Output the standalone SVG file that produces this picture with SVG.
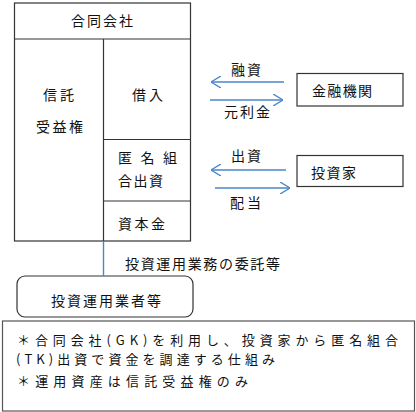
<svg xmlns="http://www.w3.org/2000/svg" width="416" height="412" viewBox="0 0 416 412">
<defs>
<style>
text{font-family:"Noto Sans CJK JP","Noto Sans",sans-serif;font-size:14px;fill:#111;}
.nt{font-size:13px;}
.bx{fill:#fff;stroke:#333;stroke-width:1.2;}
.ar{fill:none;stroke:#4a86c8;stroke-width:1.6;}
</style>
<marker id="ah" viewBox="0 0 10 12" refX="10" refY="6" markerWidth="10" markerHeight="12" markerUnits="userSpaceOnUse" orient="auto">
<path d="M0,0 L10,6 L0,12" fill="none" stroke="#4a86c8" stroke-width="1.4"/>
</marker>
</defs>
<rect width="416" height="412" fill="#fff"/>
<g id="gk">
<rect class="bx" x="14.5" y="3" width="176" height="238"/>
<line x1="14.5" y1="39" x2="190.5" y2="39" stroke="#333" stroke-width="1.2"/>
<line x1="103.5" y1="39" x2="103.5" y2="241" stroke="#333" stroke-width="1.2"/>
<line x1="103.5" y1="139.5" x2="190.5" y2="139.5" stroke="#333" stroke-width="1.2"/>
<line x1="103.5" y1="201" x2="190.5" y2="201" stroke="#333" stroke-width="1.2"/>
<text x="71" y="26" textLength="62" lengthAdjust="spacing">合同会社</text>
<text x="43" y="100" textLength="31" lengthAdjust="spacing">信託</text>
<text x="36" y="132" textLength="47" lengthAdjust="spacing">受益権</text>
<text x="132" y="100" textLength="31" lengthAdjust="spacing">借入</text>
<text x="118" y="163" textLength="59" lengthAdjust="spacing">匿名組</text>
<text x="118" y="186" textLength="45" lengthAdjust="spacing">合出資</text>
<text x="118" y="229" textLength="47" lengthAdjust="spacing">資本金</text>
</g>
<g id="bank">
<rect class="bx" x="297" y="73.5" width="106" height="32.5"/>
<text x="312" y="96" textLength="60" lengthAdjust="spacing">金融機関</text>
</g>
<g id="investor">
<rect class="bx" x="297" y="155.5" width="106" height="31"/>
<text x="311" y="178" textLength="45" lengthAdjust="spacing">投資家</text>
</g>
<g id="manager">
<rect class="bx" x="17" y="276" width="176" height="41" rx="8"/>
<text x="51" y="306" textLength="110" lengthAdjust="spacing">投資運用業者等</text>
</g>
<g id="note">
<rect x="2.5" y="321" width="412" height="90" fill="#fff" stroke="#555" stroke-width="1.2"/>
<text class="nt" x="17" y="345" textLength="381" lengthAdjust="spacing">＊合同会社(GK)を利用し、投資家から匿名組合</text>
<text class="nt" x="16" y="364" textLength="259" lengthAdjust="spacing">(TK)出資で資金を調達する仕組み</text>
<text class="nt" x="17" y="386" textLength="231" lengthAdjust="spacing">＊運用資産は信託受益権のみ</text>
</g>
<g id="connectors">
<line class="ar" x1="284" y1="82" x2="211" y2="82" marker-end="url(#ah)"/>
<line class="ar" x1="210" y1="100" x2="283" y2="100" marker-end="url(#ah)"/>
<line class="ar" x1="286" y1="170" x2="211" y2="170" marker-end="url(#ah)"/>
<line class="ar" x1="215" y1="188" x2="290" y2="188" marker-end="url(#ah)"/>
<line x1="103.5" y1="241" x2="103.5" y2="276" stroke="#4a86c8" stroke-width="1.4"/>
<text x="231" y="75" textLength="30" lengthAdjust="spacing">融資</text>
<text x="224" y="117" textLength="46" lengthAdjust="spacing">元利金</text>
<text x="231" y="161" textLength="30" lengthAdjust="spacing">出資</text>
<text x="230" y="208" textLength="31" lengthAdjust="spacing">配当</text>
<text x="125" y="269" textLength="155" lengthAdjust="spacing">投資運用業務の委託等</text>
</g>
</svg>
